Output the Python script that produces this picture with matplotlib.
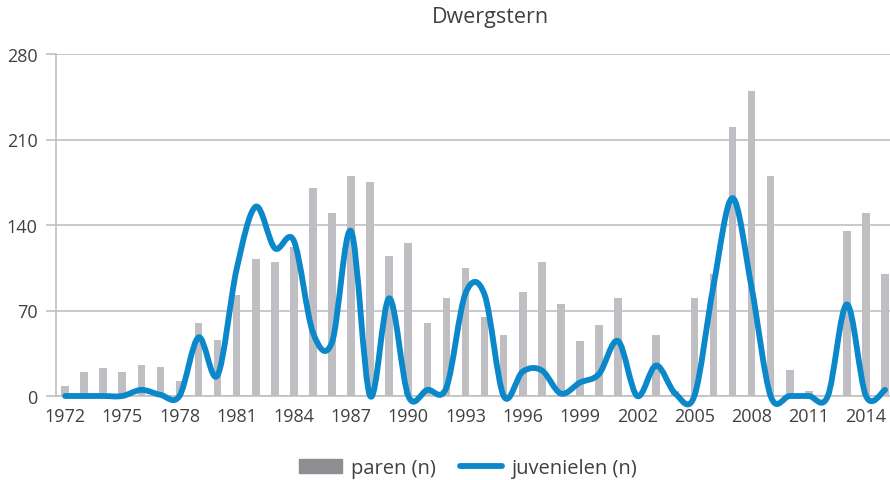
import matplotlib
matplotlib.use("Agg")
import matplotlib.pyplot as plt
from matplotlib.path import Path
from matplotlib.patches import PathPatch, Patch
from matplotlib.lines import Line2D

plt.rcParams['font.family'] = ['Open Sans', 'DejaVu Sans']

years = list(range(1972, 2016))
paren = [8, 20, 23, 20, 25, 24, 12, 60, 46, 83, 112, 110, 122, 170, 150,
         180, 175, 115, 125, 60, 80, 105, 65, 50, 85, 110, 75, 45, 58, 80,
         0, 50, 4, 80, 100, 220, 250, 180, 21, 4, 0, 135, 150, 100]
juvenielen = [0, 0, 0, 0, 5, 1, 0, 48, 17, 104, 155, 121, 127, 52, 44,
              135, 0, 80, 0, 5, 7, 84, 83, 0, 20, 21, 2, 11, 18, 45,
              0, 25, 2, 0, 90, 162, 89, 0, 0, 0, 0, 75, 0, 5]
yticks = [0, 70, 140, 210, 280]

bar_col = '#bfbfc3'
line_col = '#0a88c9'
grid_col = '#c0c0c0'
text_col = '#404040'

fig = plt.figure(figsize=(8.9, 4.81), dpi=100)
ax = fig.add_axes([55.5 / 890, 84 / 481, (890 - 55.5) / 890, 342 / 481])

x = list(range(len(years)))
ax.bar(x, paren, width=0.4, color=bar_col, zorder=2)

# smoothed line as bezier segments through each yearly value
verts = [(x[0], juvenielen[0])]
codes = [Path.MOVETO]
n = len(x)
for i in range(n - 1):
    p0 = (x[max(i - 1, 0)], juvenielen[max(i - 1, 0)])
    p1 = (x[i], juvenielen[i])
    p2 = (x[i + 1], juvenielen[i + 1])
    p3 = (x[min(i + 2, n - 1)], juvenielen[min(i + 2, n - 1)])
    c1 = (p1[0] + (p2[0] - p0[0]) / 6, p1[1] + (p2[1] - p0[1]) / 6)
    c2 = (p2[0] - (p3[0] - p1[0]) / 6, p2[1] - (p3[1] - p1[1]) / 6)
    verts += [c1, c2, p2]
    codes += [Path.CURVE4] * 3
ax.add_patch(PathPatch(Path(verts, codes), fill=False, edgecolor=line_col,
                       lw=4.2, capstyle='round', joinstyle='round', zorder=3,
                       clip_on=False))

ax.set_xlim(-0.5, (890 - 55.5) / 19.07 - 0.5)
ax.set_ylim(0, 280)
ax.set_yticks(yticks)
ax.set_xticks(x[::3])
ax.set_xticklabels([str(y) for y in years[::3]])
ax.yaxis.grid(True, color=grid_col, lw=1.2, zorder=0)
ax.tick_params(axis='y', length=7, color=grid_col, width=1.2, pad=6,
               labelsize=13, labelcolor=text_col)
ax.tick_params(axis='x', length=0, pad=8, labelsize=13, labelcolor=text_col)
for s in ['top', 'right']:
    ax.spines[s].set_visible(False)
for s in ['left', 'bottom']:
    ax.spines[s].set_color(grid_col)
    ax.spines[s].set_linewidth(1.2)

fig.text(490 / 890, 1 - 18 / 481, 'Dwergstern', ha='center', va='center',
         fontsize=15.5, color=text_col)

handles = [Patch(color='#8e8e92', label='paren (n)'),
           Line2D([], [], color=line_col, lw=4.2, solid_capstyle='round',
                  label='juvenielen (n)')]
fig.legend(handles=handles, loc='center', bbox_to_anchor=(468 / 890, 1 - 469 / 481),
           ncol=2, frameon=False, fontsize=14.5, labelcolor=text_col,
           handlelength=2.1, handleheight=0.7, columnspacing=1.2, handletextpad=0.45)

fig.savefig('out.png', dpi=100)
